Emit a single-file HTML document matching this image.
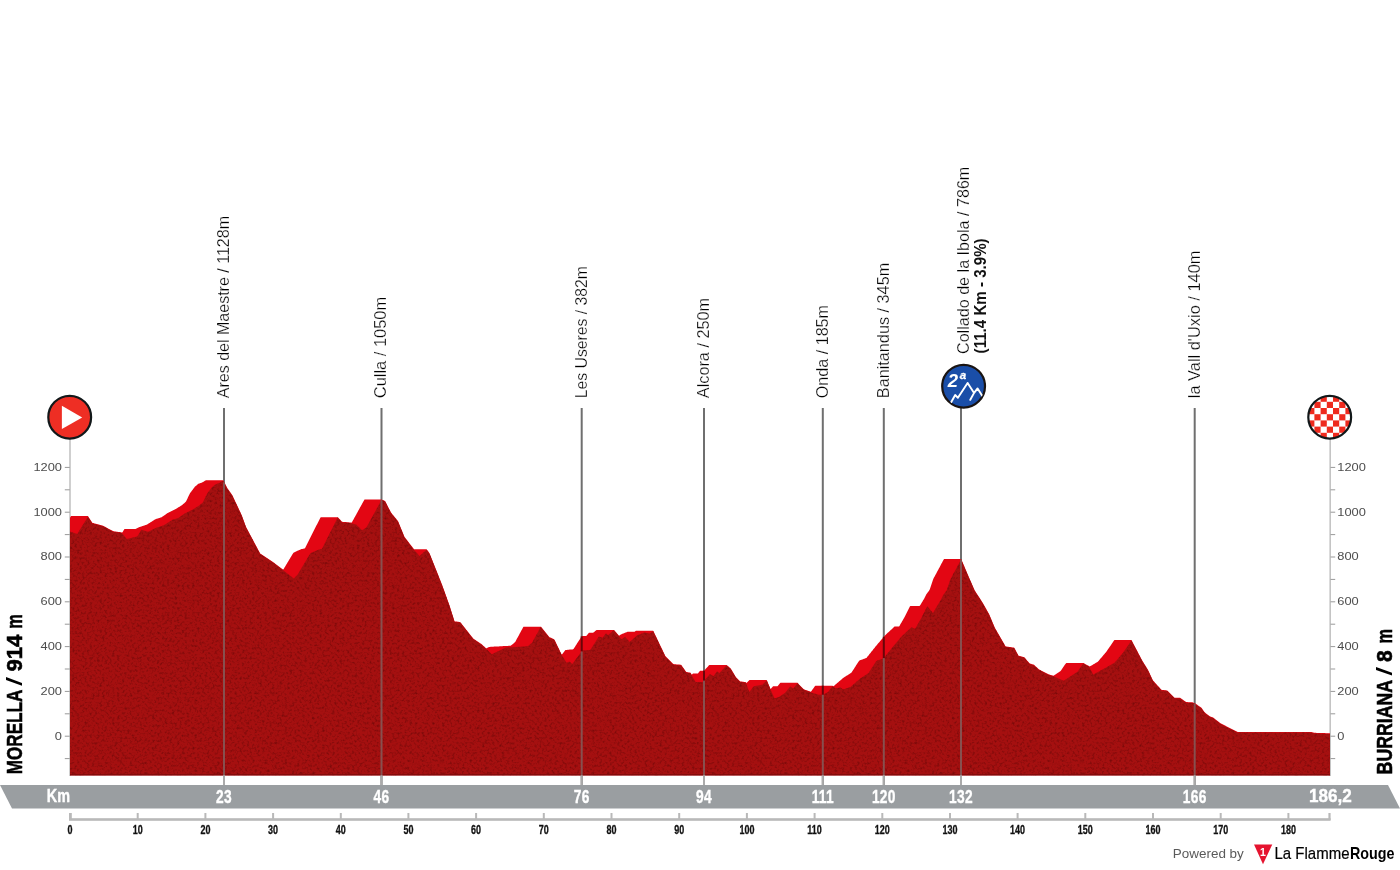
<!DOCTYPE html>
<html><head><meta charset="utf-8"><title>Stage profile</title>
<style>
html,body{margin:0;padding:0;background:#fff;}
body{width:1400px;height:870px;position:relative;overflow:hidden;font-family:"Liberation Sans",sans-serif;}
svg text{font-family:"Liberation Sans",sans-serif;}
.yl{font-size:10.7px;fill:#4d4d4d;}
.rl{font-size:12px;font-weight:bold;fill:#111;stroke:#111;stroke-width:0.3px;}
.km{font-size:18.2px;letter-spacing:0.4px;font-weight:bold;fill:#fff;stroke:#fff;stroke-width:0.4px;}
.kb{font-size:18px;font-weight:bold;fill:#fff;stroke:#fff;stroke-width:0.4px;}
.kb2{font-size:18.6px;font-weight:bold;fill:#fff;stroke:#fff;stroke-width:0.4px;}
.lb{font-size:16.4px;fill:#000;stroke:#fff;stroke-width:0.26px;}
.lbb{font-size:16.4px;font-weight:bold;fill:#111;}
.ti{font-size:21.6px;font-weight:bold;fill:#000;stroke:#000;stroke-width:0.55px;}
.k2{font-size:18.5px;font-weight:bold;font-style:italic;fill:#fff;}
.ka{font-size:11.6px;font-weight:bold;font-style:italic;fill:#fff;stroke:#fff;stroke-width:0.3px;}
.pw{font-size:12.6px;fill:#5a5a5a;}
.one{font-size:10.5px;font-weight:bold;fill:#fff;}
.lf{font-size:16.6px;fill:#000;stroke:#000;stroke-width:0.2px;}
.lfb{font-size:16.6px;font-weight:bold;fill:#000;}
</style></head><body>
<svg width="1400" height="870" viewBox="0 0 1400 870" style="position:absolute;left:0;top:0;will-change:transform">
<defs>
<filter id="noise" x="0" y="0" width="100%" height="100%" filterUnits="objectBoundingBox" color-interpolation-filters="sRGB">
<feTurbulence type="fractalNoise" baseFrequency="0.4" numOctaves="2" seed="7" result="n"/>
<feColorMatrix in="n" type="matrix" values="0 0 0 0 0.42  0 0 0 0 0.03  0 0 0 0 0.03  1.8 0 0 0 -0.85" result="d"/>
<feComposite in="d" in2="SourceGraphic" operator="in" result="dd"/>
<feMerge><feMergeNode in="SourceGraphic"/><feMergeNode in="dd"/></feMerge>
</filter>
<clipPath id="cs"><circle cx="1329.7" cy="417.2" r="21.2"/></clipPath>
<clipPath id="cb"><circle cx="963.6" cy="386.2" r="21"/></clipPath>
</defs>
<rect x="69.2" y="438" width="1.6" height="338" fill="#c4c4c4"/>
<rect x="1329.4" y="438" width="1.6" height="338" fill="#c4c4c4"/>
<rect x="64.8" y="758.10" width="5" height="1" fill="#9a9a9a"/>
<rect x="1330.5" y="758.10" width="4.7" height="1" fill="#9a9a9a"/>
<rect x="64.8" y="735.70" width="5" height="1" fill="#9a9a9a"/>
<rect x="1330.5" y="735.70" width="4.7" height="1" fill="#9a9a9a"/>
<text x="0" y="0" transform="translate(62,739.50) scale(1.2,1)" text-anchor="end" class="yl">0</text>
<text x="0" y="0" transform="translate(1337.3,739.50) scale(1.2,1)" text-anchor="start" class="yl">0</text>
<rect x="64.8" y="713.30" width="5" height="1" fill="#9a9a9a"/>
<rect x="1330.5" y="713.30" width="4.7" height="1" fill="#9a9a9a"/>
<rect x="64.8" y="690.90" width="5" height="1" fill="#9a9a9a"/>
<rect x="1330.5" y="690.90" width="4.7" height="1" fill="#9a9a9a"/>
<text x="0" y="0" transform="translate(62,694.70) scale(1.2,1)" text-anchor="end" class="yl">200</text>
<text x="0" y="0" transform="translate(1337.3,694.70) scale(1.2,1)" text-anchor="start" class="yl">200</text>
<rect x="64.8" y="668.50" width="5" height="1" fill="#9a9a9a"/>
<rect x="1330.5" y="668.50" width="4.7" height="1" fill="#9a9a9a"/>
<rect x="64.8" y="646.10" width="5" height="1" fill="#9a9a9a"/>
<rect x="1330.5" y="646.10" width="4.7" height="1" fill="#9a9a9a"/>
<text x="0" y="0" transform="translate(62,649.90) scale(1.2,1)" text-anchor="end" class="yl">400</text>
<text x="0" y="0" transform="translate(1337.3,649.90) scale(1.2,1)" text-anchor="start" class="yl">400</text>
<rect x="64.8" y="623.70" width="5" height="1" fill="#9a9a9a"/>
<rect x="1330.5" y="623.70" width="4.7" height="1" fill="#9a9a9a"/>
<rect x="64.8" y="601.30" width="5" height="1" fill="#9a9a9a"/>
<rect x="1330.5" y="601.30" width="4.7" height="1" fill="#9a9a9a"/>
<text x="0" y="0" transform="translate(62,605.10) scale(1.2,1)" text-anchor="end" class="yl">600</text>
<text x="0" y="0" transform="translate(1337.3,605.10) scale(1.2,1)" text-anchor="start" class="yl">600</text>
<rect x="64.8" y="578.90" width="5" height="1" fill="#9a9a9a"/>
<rect x="1330.5" y="578.90" width="4.7" height="1" fill="#9a9a9a"/>
<rect x="64.8" y="556.50" width="5" height="1" fill="#9a9a9a"/>
<rect x="1330.5" y="556.50" width="4.7" height="1" fill="#9a9a9a"/>
<text x="0" y="0" transform="translate(62,560.30) scale(1.2,1)" text-anchor="end" class="yl">800</text>
<text x="0" y="0" transform="translate(1337.3,560.30) scale(1.2,1)" text-anchor="start" class="yl">800</text>
<rect x="64.8" y="534.10" width="5" height="1" fill="#9a9a9a"/>
<rect x="1330.5" y="534.10" width="4.7" height="1" fill="#9a9a9a"/>
<rect x="64.8" y="511.70" width="5" height="1" fill="#9a9a9a"/>
<rect x="1330.5" y="511.70" width="4.7" height="1" fill="#9a9a9a"/>
<text x="0" y="0" transform="translate(62,515.50) scale(1.2,1)" text-anchor="end" class="yl">1000</text>
<text x="0" y="0" transform="translate(1337.3,515.50) scale(1.2,1)" text-anchor="start" class="yl">1000</text>
<rect x="64.8" y="489.30" width="5" height="1" fill="#9a9a9a"/>
<rect x="1330.5" y="489.30" width="4.7" height="1" fill="#9a9a9a"/>
<rect x="64.8" y="466.90" width="5" height="1" fill="#9a9a9a"/>
<rect x="1330.5" y="466.90" width="4.7" height="1" fill="#9a9a9a"/>
<text x="0" y="0" transform="translate(62,470.70) scale(1.2,1)" text-anchor="end" class="yl">1200</text>
<text x="0" y="0" transform="translate(1337.3,470.70) scale(1.2,1)" text-anchor="start" class="yl">1200</text>
<rect x="223.0" y="408" width="2" height="377" fill="#6f6f6f"/>
<rect x="380.5" y="408" width="2" height="377" fill="#6f6f6f"/>
<rect x="580.7" y="408" width="2" height="377" fill="#6f6f6f"/>
<rect x="703.0" y="408" width="2" height="377" fill="#6f6f6f"/>
<rect x="821.8" y="408" width="2" height="377" fill="#6f6f6f"/>
<rect x="882.8" y="408" width="2" height="377" fill="#6f6f6f"/>
<rect x="1193.7" y="408" width="2" height="377" fill="#6f6f6f"/>
<rect x="960.0" y="408" width="2" height="377" fill="#6f6f6f"/>
<path d="M70.0,775.2 L70.0,517.7 L70.5,516.9 L71.0,516.1 L71.5,516.1 L72.0,516.1 L72.5,516.1 L73.0,516.1 L73.5,516.1 L74.0,516.1 L74.5,516.1 L75.0,516.1 L75.5,516.1 L76.0,516.1 L76.5,516.1 L77.0,516.1 L77.5,516.1 L78.0,516.1 L78.5,516.1 L79.0,516.1 L79.5,516.1 L80.0,516.1 L80.5,516.1 L81.0,516.1 L81.5,516.1 L82.0,516.1 L82.5,516.1 L83.0,516.1 L83.5,516.1 L84.0,516.1 L84.5,516.1 L85.0,516.1 L85.5,516.1 L86.0,516.1 L86.5,516.1 L87.0,516.1 L87.5,516.1 L88.0,516.1 L88.5,516.9 L89.0,517.7 L89.5,518.4 L90.0,519.2 L90.5,520.0 L91.0,520.8 L91.5,521.6 L92.0,522.3 L92.5,522.9 L93.0,523.0 L93.5,523.1 L94.0,523.3 L94.5,523.4 L95.0,523.5 L95.5,523.7 L96.0,523.8 L96.5,523.9 L97.0,524.1 L97.5,524.2 L98.0,524.3 L98.5,524.5 L99.0,524.6 L99.5,524.8 L100.0,524.9 L100.5,525.0 L101.0,525.2 L101.5,525.3 L102.0,525.4 L102.5,525.6 L103.0,525.7 L103.5,526.0 L104.0,526.2 L104.5,526.5 L105.0,526.8 L105.5,527.0 L106.0,527.3 L106.5,527.6 L107.0,527.9 L107.5,528.1 L108.0,528.4 L108.5,528.7 L109.0,528.9 L109.5,529.2 L110.0,529.5 L110.5,529.7 L111.0,530.0 L111.5,530.3 L112.0,530.6 L112.5,530.8 L113.0,531.1 L113.5,531.2 L114.0,531.3 L114.5,531.4 L115.0,531.5 L115.5,531.5 L116.0,531.6 L116.5,531.7 L117.0,531.7 L117.5,531.8 L118.0,531.9 L118.5,531.9 L119.0,532.0 L119.5,532.1 L120.0,532.1 L120.5,532.2 L121.0,532.3 L121.5,532.4 L122.0,532.6 L122.5,532.3 L123.0,531.4 L123.5,530.6 L124.0,529.8 L124.5,529.1 L125.0,529.1 L125.5,529.1 L126.0,529.1 L126.5,529.1 L127.0,529.1 L127.5,529.1 L128.0,529.1 L128.5,529.1 L129.0,529.1 L129.5,529.1 L130.0,529.1 L130.5,529.1 L131.0,529.1 L131.5,529.1 L132.0,529.1 L132.5,529.1 L133.0,529.1 L133.5,529.1 L134.0,529.1 L134.5,529.1 L135.0,529.1 L135.5,529.0 L136.0,528.7 L136.5,528.5 L137.0,528.3 L137.5,528.0 L138.0,527.8 L138.5,527.6 L139.0,527.3 L139.5,527.1 L140.0,526.9 L140.5,526.8 L141.0,526.6 L141.5,526.4 L142.0,526.3 L142.5,526.1 L143.0,525.9 L143.5,525.8 L144.0,525.6 L144.5,525.5 L145.0,525.3 L145.5,525.1 L146.0,525.0 L146.5,524.8 L147.0,524.6 L147.5,524.3 L148.0,523.9 L148.5,523.6 L149.0,523.3 L149.5,523.0 L150.0,522.7 L150.5,522.3 L151.0,522.0 L151.5,521.7 L152.0,521.4 L152.5,521.1 L153.0,520.8 L153.5,520.4 L154.0,520.1 L154.5,519.8 L155.0,519.5 L155.5,519.2 L156.0,519.0 L156.5,518.8 L157.0,518.7 L157.5,518.5 L158.0,518.4 L158.5,518.2 L159.0,518.1 L159.5,517.9 L160.0,517.8 L160.5,517.6 L161.0,517.5 L161.5,517.3 L162.0,516.9 L162.5,516.6 L163.0,516.2 L163.5,515.9 L164.0,515.5 L164.5,515.2 L165.0,514.9 L165.5,514.5 L166.0,514.2 L166.5,513.8 L167.0,513.5 L167.5,513.1 L168.0,512.9 L168.5,512.6 L169.0,512.4 L169.5,512.1 L170.0,511.9 L170.5,511.6 L171.0,511.4 L171.5,511.1 L172.0,510.9 L172.5,510.6 L173.0,510.4 L173.5,510.1 L174.0,509.9 L174.5,509.6 L175.0,509.4 L175.5,509.1 L176.0,508.9 L176.5,508.6 L177.0,508.2 L177.5,507.9 L178.0,507.6 L178.5,507.3 L179.0,507.0 L179.5,506.7 L180.0,506.4 L180.5,506.1 L181.0,505.8 L181.5,505.4 L182.0,505.1 L182.5,504.7 L183.0,504.3 L183.5,503.8 L184.0,503.4 L184.5,503.0 L185.0,502.5 L185.5,502.1 L186.0,501.4 L186.5,500.4 L187.0,499.4 L187.5,498.4 L188.0,497.3 L188.5,496.3 L189.0,495.3 L189.5,494.3 L190.0,493.3 L190.5,492.5 L191.0,491.9 L191.5,491.2 L192.0,490.5 L192.5,489.9 L193.0,489.2 L193.5,488.6 L194.0,487.9 L194.5,487.3 L195.0,486.6 L195.5,486.2 L196.0,485.8 L196.5,485.4 L197.0,485.0 L197.5,484.6 L198.0,484.1 L198.5,483.8 L199.0,483.6 L199.5,483.4 L200.0,483.3 L200.5,483.1 L201.0,482.9 L201.5,482.7 L202.0,482.5 L202.5,482.3 L203.0,482.0 L203.5,481.7 L204.0,481.4 L204.5,481.1 L205.0,480.8 L205.5,480.5 L206.0,480.2 L206.5,480.2 L207.0,480.2 L207.5,480.2 L208.0,480.2 L208.5,480.2 L209.0,480.2 L209.5,480.2 L210.0,480.2 L210.5,480.2 L211.0,480.2 L211.5,480.2 L212.0,480.2 L212.5,480.2 L213.0,480.2 L213.5,480.2 L214.0,480.2 L214.5,480.2 L215.0,480.2 L215.5,480.2 L216.0,480.2 L216.5,480.2 L217.0,480.2 L217.5,480.2 L218.0,480.2 L218.5,480.2 L219.0,480.2 L219.5,480.2 L220.0,480.2 L220.5,480.2 L221.0,480.2 L221.5,480.2 L222.0,480.2 L222.5,480.2 L223.0,480.2 L223.5,480.7 L224.0,481.7 L224.5,482.6 L225.0,483.6 L225.5,484.6 L226.0,485.6 L226.5,486.5 L227.0,487.5 L227.5,488.4 L228.0,489.1 L228.5,489.8 L229.0,490.5 L229.5,491.2 L230.0,491.9 L230.5,492.6 L231.0,493.3 L231.5,494.0 L232.0,494.7 L232.5,495.5 L233.0,496.6 L233.5,497.7 L234.0,498.7 L234.5,499.8 L235.0,500.9 L235.5,501.9 L236.0,503.0 L236.5,504.1 L237.0,505.1 L237.5,506.2 L238.0,507.3 L238.5,508.3 L239.0,509.4 L239.5,510.5 L240.0,511.6 L240.5,512.6 L241.0,513.7 L241.5,514.8 L242.0,515.9 L242.5,517.3 L243.0,518.7 L243.5,520.1 L244.0,521.4 L244.5,522.8 L245.0,524.2 L245.5,525.5 L246.0,526.9 L246.5,527.8 L247.0,528.8 L247.5,529.7 L248.0,530.7 L248.5,531.6 L249.0,532.5 L249.5,533.5 L250.0,534.4 L250.5,535.4 L251.0,536.3 L251.5,537.2 L252.0,538.2 L252.5,539.1 L253.0,540.1 L253.5,541.0 L254.0,541.9 L254.5,542.9 L255.0,543.8 L255.5,544.8 L256.0,545.7 L256.5,546.6 L257.0,547.6 L257.5,548.5 L258.0,549.5 L258.5,550.4 L259.0,551.3 L259.5,552.3 L260.0,553.2 L260.5,553.7 L261.0,554.0 L261.5,554.3 L262.0,554.7 L262.5,555.0 L263.0,555.3 L263.5,555.7 L264.0,556.0 L264.5,556.3 L265.0,556.7 L265.5,557.0 L266.0,557.3 L266.5,557.7 L267.0,558.0 L267.5,558.3 L268.0,558.7 L268.5,559.0 L269.0,559.3 L269.5,559.7 L270.0,560.0 L270.5,560.3 L271.0,560.7 L271.5,561.0 L272.0,561.3 L272.5,561.7 L273.0,562.0 L273.5,562.4 L274.0,562.8 L274.5,563.1 L275.0,563.5 L275.5,563.9 L276.0,564.3 L276.5,564.7 L277.0,565.0 L277.5,565.4 L278.0,565.8 L278.5,566.2 L279.0,566.6 L279.5,566.9 L280.0,567.3 L280.5,567.7 L281.0,568.1 L281.5,568.5 L282.0,568.8 L282.5,569.2 L283.0,569.6 L283.5,569.2 L284.0,568.4 L284.5,567.5 L285.0,566.7 L285.5,565.9 L286.0,565.0 L286.5,564.2 L287.0,563.4 L287.5,562.5 L288.0,561.7 L288.5,560.9 L289.0,560.0 L289.5,559.2 L290.0,558.4 L290.5,557.5 L291.0,556.7 L291.5,555.9 L292.0,555.0 L292.5,554.2 L293.0,553.4 L293.5,552.7 L294.0,552.4 L294.5,552.2 L295.0,552.0 L295.5,551.7 L296.0,551.5 L296.5,551.3 L297.0,551.1 L297.5,550.8 L298.0,550.6 L298.5,550.4 L299.0,550.1 L299.5,549.9 L300.0,549.7 L300.5,549.5 L301.0,549.2 L301.5,549.1 L302.0,549.0 L302.5,548.9 L303.0,548.8 L303.5,548.7 L304.0,548.6 L304.5,548.5 L305.0,548.2 L305.5,547.2 L306.0,546.2 L306.5,545.2 L307.0,544.2 L307.5,543.2 L308.0,542.2 L308.5,541.2 L309.0,540.3 L309.5,539.3 L310.0,538.3 L310.5,537.3 L311.0,536.3 L311.5,535.3 L312.0,534.3 L312.5,533.3 L313.0,532.3 L313.5,531.3 L314.0,530.3 L314.5,529.3 L315.0,528.3 L315.5,527.3 L316.0,526.3 L316.5,525.3 L317.0,524.4 L317.5,523.4 L318.0,522.4 L318.5,521.4 L319.0,520.4 L319.5,519.4 L320.0,518.4 L320.5,517.4 L321.0,517.3 L321.5,517.3 L322.0,517.3 L322.5,517.3 L323.0,517.3 L323.5,517.3 L324.0,517.3 L324.5,517.3 L325.0,517.3 L325.5,517.3 L326.0,517.3 L326.5,517.3 L327.0,517.3 L327.5,517.3 L328.0,517.3 L328.5,517.3 L329.0,517.3 L329.5,517.3 L330.0,517.3 L330.5,517.3 L331.0,517.3 L331.5,517.3 L332.0,517.3 L332.5,517.3 L333.0,517.3 L333.5,517.3 L334.0,517.3 L334.5,517.3 L335.0,517.3 L335.5,517.3 L336.0,517.3 L336.5,517.3 L337.0,517.3 L337.5,517.3 L338.0,517.3 L338.5,517.9 L339.0,518.5 L339.5,519.0 L340.0,519.6 L340.5,520.1 L341.0,520.7 L341.5,521.2 L342.0,521.8 L342.5,521.8 L343.0,521.9 L343.5,521.9 L344.0,522.0 L344.5,522.0 L345.0,522.0 L345.5,522.1 L346.0,522.1 L346.5,522.2 L347.0,522.2 L347.5,522.2 L348.0,522.3 L348.5,522.3 L349.0,522.4 L349.5,522.4 L350.0,522.5 L350.5,522.5 L351.0,522.6 L351.5,522.8 L352.0,522.1 L352.5,521.2 L353.0,520.3 L353.5,519.4 L354.0,518.5 L354.5,517.6 L355.0,516.7 L355.5,515.8 L356.0,514.9 L356.5,514.0 L357.0,513.1 L357.5,512.2 L358.0,511.3 L358.5,510.3 L359.0,509.4 L359.5,508.5 L360.0,507.6 L360.5,506.7 L361.0,505.8 L361.5,504.9 L362.0,504.0 L362.5,503.1 L363.0,502.2 L363.5,501.3 L364.0,500.4 L364.5,499.5 L365.0,499.5 L365.5,499.5 L366.0,499.5 L366.5,499.5 L367.0,499.5 L367.5,499.5 L368.0,499.5 L368.5,499.5 L369.0,499.5 L369.5,499.5 L370.0,499.5 L370.5,499.5 L371.0,499.5 L371.5,499.5 L372.0,499.5 L372.5,499.5 L373.0,499.5 L373.5,499.5 L374.0,499.5 L374.5,499.5 L375.0,499.5 L375.5,499.5 L376.0,499.5 L376.5,499.5 L377.0,499.5 L377.5,499.5 L378.0,499.5 L378.5,499.5 L379.0,499.5 L379.5,499.5 L380.0,499.5 L380.5,499.5 L381.0,499.5 L381.5,499.5 L382.0,499.7 L382.5,499.9 L383.0,500.1 L383.5,500.3 L384.0,500.5 L384.5,500.8 L385.0,501.0 L385.5,501.8 L386.0,502.8 L386.5,503.8 L387.0,504.7 L387.5,505.7 L388.0,506.7 L388.5,507.7 L389.0,508.7 L389.5,509.6 L390.0,510.6 L390.5,511.6 L391.0,512.5 L391.5,513.1 L392.0,513.7 L392.5,514.4 L393.0,515.0 L393.5,515.6 L394.0,516.2 L394.5,516.8 L395.0,517.4 L395.5,518.0 L396.0,518.6 L396.5,519.3 L397.0,519.9 L397.5,520.5 L398.0,521.1 L398.5,522.3 L399.0,523.5 L399.5,524.7 L400.0,526.0 L400.5,527.2 L401.0,528.4 L401.5,529.6 L402.0,530.8 L402.5,532.0 L403.0,533.3 L403.5,534.5 L404.0,535.7 L404.5,536.9 L405.0,537.5 L405.5,538.2 L406.0,538.8 L406.5,539.5 L407.0,540.1 L407.5,540.8 L408.0,541.4 L408.5,542.1 L409.0,542.7 L409.5,543.4 L410.0,544.0 L410.5,544.7 L411.0,545.3 L411.5,546.0 L412.0,546.6 L412.5,547.3 L413.0,547.9 L413.5,548.6 L414.0,549.2 L414.5,549.3 L415.0,549.3 L415.5,549.3 L416.0,549.3 L416.5,549.3 L417.0,549.3 L417.5,549.3 L418.0,549.3 L418.5,549.3 L419.0,549.3 L419.5,549.3 L420.0,549.3 L420.5,549.3 L421.0,549.3 L421.5,549.3 L422.0,549.3 L422.5,549.3 L423.0,549.3 L423.5,549.3 L424.0,549.3 L424.5,549.3 L425.0,549.3 L425.5,549.3 L426.0,549.3 L426.5,549.3 L427.0,549.8 L427.5,550.4 L428.0,551.1 L428.5,551.8 L429.0,552.5 L429.5,553.2 L430.0,554.5 L430.5,555.7 L431.0,557.0 L431.5,558.2 L432.0,559.5 L432.5,560.7 L433.0,562.0 L433.5,563.3 L434.0,564.5 L434.5,565.8 L435.0,567.0 L435.5,568.3 L436.0,569.6 L436.5,570.8 L437.0,572.1 L437.5,573.3 L438.0,574.6 L438.5,575.8 L439.0,577.1 L439.5,578.4 L440.0,579.6 L440.5,580.9 L441.0,582.1 L441.5,583.4 L442.0,584.6 L442.5,586.0 L443.0,587.4 L443.5,588.8 L444.0,590.1 L444.5,591.5 L445.0,592.9 L445.5,594.3 L446.0,595.7 L446.5,597.1 L447.0,598.5 L447.5,599.9 L448.0,601.3 L448.5,602.7 L449.0,604.1 L449.5,605.5 L450.0,607.1 L450.5,608.7 L451.0,610.2 L451.5,611.8 L452.0,613.4 L452.5,615.0 L453.0,616.6 L453.5,618.1 L454.0,619.7 L454.5,621.3 L455.0,621.4 L455.5,621.4 L456.0,621.5 L456.5,621.5 L457.0,621.6 L457.5,621.7 L458.0,621.7 L458.5,621.8 L459.0,621.9 L459.5,621.9 L460.0,622.0 L460.5,622.4 L461.0,623.0 L461.5,623.6 L462.0,624.3 L462.5,624.9 L463.0,625.6 L463.5,626.2 L464.0,626.8 L464.5,627.5 L465.0,628.1 L465.5,628.7 L466.0,629.4 L466.5,630.0 L467.0,630.6 L467.5,631.3 L468.0,631.9 L468.5,632.5 L469.0,633.2 L469.5,633.8 L470.0,634.4 L470.5,635.1 L471.0,635.7 L471.5,636.3 L472.0,637.0 L472.5,637.6 L473.0,638.2 L473.5,638.7 L474.0,639.0 L474.5,639.4 L475.0,639.7 L475.5,640.1 L476.0,640.4 L476.5,640.7 L477.0,641.1 L477.5,641.4 L478.0,641.7 L478.5,642.1 L479.0,642.4 L479.5,642.7 L480.0,643.1 L480.5,643.4 L481.0,643.8 L481.5,644.1 L482.0,644.5 L482.5,645.0 L483.0,645.4 L483.5,645.9 L484.0,646.3 L484.5,646.8 L485.0,647.3 L485.5,647.7 L486.0,648.2 L486.5,648.2 L487.0,647.9 L487.5,647.7 L488.0,647.5 L488.5,647.2 L489.0,647.0 L489.5,646.9 L490.0,646.9 L490.5,646.8 L491.0,646.8 L491.5,646.8 L492.0,646.7 L492.5,646.7 L493.0,646.7 L493.5,646.7 L494.0,646.6 L494.5,646.6 L495.0,646.6 L495.5,646.5 L496.0,646.5 L496.5,646.5 L497.0,646.5 L497.5,646.4 L498.0,646.4 L498.5,646.4 L499.0,646.4 L499.5,646.3 L500.0,646.3 L500.5,646.3 L501.0,646.2 L501.5,646.2 L502.0,646.2 L502.5,646.2 L503.0,646.1 L503.5,646.1 L504.0,646.1 L504.5,646.0 L505.0,646.0 L505.5,646.0 L506.0,646.0 L506.5,645.9 L507.0,645.9 L507.5,645.9 L508.0,645.9 L508.5,645.8 L509.0,645.8 L509.5,645.8 L510.0,645.7 L510.5,645.7 L511.0,645.5 L511.5,645.1 L512.0,644.7 L512.5,644.3 L513.0,643.9 L513.5,643.4 L514.0,643.0 L514.5,642.6 L515.0,642.2 L515.5,641.4 L516.0,640.4 L516.5,639.5 L517.0,638.6 L517.5,637.7 L518.0,636.8 L518.5,635.9 L519.0,634.9 L519.5,634.0 L520.0,633.1 L520.5,632.2 L521.0,631.3 L521.5,630.3 L522.0,629.4 L522.5,628.5 L523.0,627.6 L523.5,626.7 L524.0,626.7 L524.5,626.7 L525.0,626.7 L525.5,626.7 L526.0,626.7 L526.5,626.7 L527.0,626.7 L527.5,626.7 L528.0,626.7 L528.5,626.7 L529.0,626.7 L529.5,626.7 L530.0,626.7 L530.5,626.7 L531.0,626.7 L531.5,626.7 L532.0,626.7 L532.5,626.7 L533.0,626.7 L533.5,626.7 L534.0,626.7 L534.5,626.7 L535.0,626.7 L535.5,626.7 L536.0,626.7 L536.5,626.7 L537.0,626.7 L537.5,626.7 L538.0,626.7 L538.5,626.7 L539.0,626.7 L539.5,626.7 L540.0,626.7 L540.5,626.7 L541.0,626.7 L541.5,627.3 L542.0,627.9 L542.5,628.6 L543.0,629.2 L543.5,629.8 L544.0,630.4 L544.5,631.1 L545.0,631.7 L545.5,632.3 L546.0,633.0 L546.5,633.6 L547.0,634.2 L547.5,634.8 L548.0,635.5 L548.5,636.1 L549.0,636.7 L549.5,637.2 L550.0,637.4 L550.5,637.6 L551.0,637.8 L551.5,638.1 L552.0,638.3 L552.5,638.5 L553.0,638.7 L553.5,638.9 L554.0,639.2 L554.5,639.7 L555.0,640.8 L555.5,641.8 L556.0,642.8 L556.5,643.9 L557.0,644.9 L557.5,646.0 L558.0,647.0 L558.5,648.0 L559.0,649.1 L559.5,650.1 L560.0,651.2 L560.5,652.2 L561.0,653.3 L561.5,654.3 L562.0,654.5 L562.5,653.8 L563.0,653.2 L563.5,652.5 L564.0,651.8 L564.5,651.2 L565.0,650.5 L565.5,650.0 L566.0,649.9 L566.5,649.9 L567.0,649.9 L567.5,649.8 L568.0,649.8 L568.5,649.7 L569.0,649.7 L569.5,649.6 L570.0,649.6 L570.5,649.5 L571.0,649.5 L571.5,649.5 L572.0,649.4 L572.5,649.4 L573.0,649.3 L573.5,649.0 L574.0,648.2 L574.5,647.4 L575.0,646.7 L575.5,645.9 L576.0,645.1 L576.5,644.4 L577.0,643.6 L577.5,642.8 L578.0,642.0 L578.5,641.3 L579.0,640.5 L579.5,639.7 L580.0,638.9 L580.5,638.2 L581.0,637.4 L581.5,636.6 L582.0,636.0 L582.5,636.0 L583.0,636.0 L583.5,636.0 L584.0,636.0 L584.5,636.0 L585.0,636.0 L585.5,636.0 L586.0,636.0 L586.5,635.8 L587.0,635.2 L587.5,634.6 L588.0,634.0 L588.5,633.3 L589.0,632.7 L589.5,632.7 L590.0,632.7 L590.5,632.7 L591.0,632.7 L591.5,632.7 L592.0,632.7 L592.5,632.7 L593.0,632.7 L593.5,632.5 L594.0,632.1 L594.5,631.7 L595.0,631.2 L595.5,630.8 L596.0,630.4 L596.5,630.0 L597.0,629.9 L597.5,629.9 L598.0,629.9 L598.5,629.9 L599.0,629.9 L599.5,629.9 L600.0,629.9 L600.5,629.9 L601.0,629.9 L601.5,629.9 L602.0,629.9 L602.5,629.9 L603.0,629.9 L603.5,629.9 L604.0,629.9 L604.5,629.9 L605.0,629.9 L605.5,629.9 L606.0,629.9 L606.5,629.9 L607.0,629.9 L607.5,629.9 L608.0,629.9 L608.5,629.9 L609.0,629.9 L609.5,629.9 L610.0,629.9 L610.5,629.9 L611.0,629.9 L611.5,629.9 L612.0,629.9 L612.5,629.9 L613.0,629.9 L613.5,629.9 L614.0,629.9 L614.5,630.5 L615.0,631.1 L615.5,631.7 L616.0,632.3 L616.5,632.8 L617.0,633.4 L617.5,634.0 L618.0,634.6 L618.5,635.2 L619.0,635.8 L619.5,635.5 L620.0,635.0 L620.5,634.7 L621.0,634.5 L621.5,634.3 L622.0,634.0 L622.5,633.8 L623.0,633.6 L623.5,633.4 L624.0,633.2 L624.5,633.0 L625.0,632.8 L625.5,632.6 L626.0,632.4 L626.5,632.2 L627.0,632.0 L627.5,631.8 L628.0,631.8 L628.5,631.8 L629.0,631.8 L629.5,631.8 L630.0,631.8 L630.5,631.8 L631.0,631.8 L631.5,631.8 L632.0,631.8 L632.5,631.8 L633.0,631.8 L633.5,631.8 L634.0,631.8 L634.5,631.8 L635.0,631.5 L635.5,631.1 L636.0,630.7 L636.5,630.7 L637.0,630.7 L637.5,630.7 L638.0,630.7 L638.5,630.7 L639.0,630.7 L639.5,630.7 L640.0,630.7 L640.5,630.7 L641.0,630.7 L641.5,630.7 L642.0,630.7 L642.5,630.7 L643.0,630.7 L643.5,630.7 L644.0,630.7 L644.5,630.7 L645.0,630.7 L645.5,630.7 L646.0,630.7 L646.5,630.7 L647.0,630.7 L647.5,630.7 L648.0,630.7 L648.5,630.7 L649.0,630.7 L649.5,630.7 L650.0,630.7 L650.5,630.7 L651.0,630.7 L651.5,630.7 L652.0,630.7 L652.5,630.7 L653.0,630.7 L653.5,631.2 L654.0,632.3 L654.5,633.4 L655.0,634.4 L655.5,635.5 L656.0,636.5 L656.5,637.6 L657.0,638.6 L657.5,639.7 L658.0,640.7 L658.5,641.8 L659.0,642.8 L659.5,643.9 L660.0,644.9 L660.5,646.0 L661.0,647.0 L661.5,648.1 L662.0,649.1 L662.5,650.1 L663.0,651.2 L663.5,652.2 L664.0,653.3 L664.5,654.3 L665.0,655.4 L665.5,656.3 L666.0,656.8 L666.5,657.3 L667.0,657.8 L667.5,658.3 L668.0,658.8 L668.5,659.3 L669.0,659.8 L669.5,660.3 L670.0,660.8 L670.5,661.3 L671.0,661.8 L671.5,662.3 L672.0,662.8 L672.5,663.3 L673.0,663.8 L673.5,664.1 L674.0,664.2 L674.5,664.2 L675.0,664.3 L675.5,664.3 L676.0,664.3 L676.5,664.4 L677.0,664.4 L677.5,664.5 L678.0,664.5 L678.5,664.6 L679.0,664.6 L679.5,664.6 L680.0,664.7 L680.5,664.7 L681.0,664.8 L681.5,665.2 L682.0,666.0 L682.5,666.7 L683.0,667.4 L683.5,668.1 L684.0,668.8 L684.5,669.6 L685.0,670.3 L685.5,671.0 L686.0,671.7 L686.5,672.0 L687.0,672.1 L687.5,672.2 L688.0,672.3 L688.5,672.4 L689.0,672.5 L689.5,672.5 L690.0,672.6 L690.5,672.7 L691.0,673.6 L691.5,674.4 L692.0,674.5 L692.5,674.0 L693.0,673.6 L693.5,673.6 L694.0,673.6 L694.5,673.6 L695.0,673.6 L695.5,673.6 L696.0,673.6 L696.5,673.6 L697.0,673.6 L697.5,673.6 L698.0,673.5 L698.5,672.8 L699.0,672.1 L699.5,671.4 L700.0,670.7 L700.5,670.7 L701.0,670.7 L701.5,670.7 L702.0,670.7 L702.5,670.7 L703.0,670.7 L703.5,670.7 L704.0,670.7 L704.5,670.3 L705.0,669.7 L705.5,669.1 L706.0,668.6 L706.5,668.0 L707.0,667.5 L707.5,666.9 L708.0,666.4 L708.5,665.8 L709.0,665.2 L709.5,664.9 L710.0,664.9 L710.5,664.9 L711.0,664.9 L711.5,664.9 L712.0,664.9 L712.5,664.9 L713.0,664.9 L713.5,664.9 L714.0,664.9 L714.5,664.9 L715.0,664.9 L715.5,664.9 L716.0,664.9 L716.5,664.9 L717.0,664.9 L717.5,664.9 L718.0,664.9 L718.5,664.9 L719.0,664.9 L719.5,664.9 L720.0,664.9 L720.5,664.9 L721.0,664.9 L721.5,664.9 L722.0,664.9 L722.5,664.9 L723.0,664.9 L723.5,664.9 L724.0,664.9 L724.5,664.9 L725.0,664.9 L725.5,664.9 L726.0,664.9 L726.5,664.9 L727.0,665.3 L727.5,665.7 L728.0,666.1 L728.5,666.6 L729.0,667.0 L729.5,667.4 L730.0,667.8 L730.5,668.2 L731.0,668.9 L731.5,669.7 L732.0,670.6 L732.5,671.4 L733.0,672.3 L733.5,673.1 L734.0,674.0 L734.5,674.8 L735.0,675.7 L735.5,676.5 L736.0,677.2 L736.5,677.7 L737.0,678.2 L737.5,678.7 L738.0,679.3 L738.5,679.8 L739.0,680.3 L739.5,680.8 L740.0,681.3 L740.5,681.4 L741.0,681.5 L741.5,681.6 L742.0,681.6 L742.5,681.7 L743.0,681.8 L743.5,681.8 L744.0,681.9 L744.5,681.9 L745.0,682.0 L745.5,682.1 L746.0,682.6 L746.5,683.1 L747.0,682.6 L747.5,682.1 L748.0,681.6 L748.5,681.1 L749.0,680.6 L749.5,680.1 L750.0,680.1 L750.5,680.1 L751.0,680.1 L751.5,680.1 L752.0,680.1 L752.5,680.1 L753.0,680.1 L753.5,680.1 L754.0,680.1 L754.5,680.1 L755.0,680.1 L755.5,680.1 L756.0,680.1 L756.5,680.1 L757.0,680.1 L757.5,680.1 L758.0,680.1 L758.5,680.1 L759.0,680.1 L759.5,680.1 L760.0,680.1 L760.5,680.1 L761.0,680.1 L761.5,680.1 L762.0,680.1 L762.5,680.1 L763.0,680.1 L763.5,680.1 L764.0,680.1 L764.5,680.1 L765.0,680.1 L765.5,680.1 L766.0,680.1 L766.5,680.1 L767.0,680.6 L767.5,681.8 L768.0,683.0 L768.5,684.2 L769.0,685.4 L769.5,686.6 L770.0,687.8 L770.5,688.9 L771.0,688.7 L771.5,688.1 L772.0,687.5 L772.5,686.9 L773.0,686.2 L773.5,686.2 L774.0,686.2 L774.5,686.2 L775.0,686.2 L775.5,686.2 L776.0,686.2 L776.5,686.2 L777.0,686.2 L777.5,686.2 L778.0,685.8 L778.5,685.1 L779.0,684.5 L779.5,683.8 L780.0,683.2 L780.5,682.8 L781.0,682.8 L781.5,682.8 L782.0,682.8 L782.5,682.8 L783.0,682.8 L783.5,682.8 L784.0,682.8 L784.5,682.8 L785.0,682.8 L785.5,682.8 L786.0,682.8 L786.5,682.8 L787.0,682.8 L787.5,682.8 L788.0,682.8 L788.5,682.8 L789.0,682.8 L789.5,682.8 L790.0,682.8 L790.5,682.8 L791.0,682.8 L791.5,682.8 L792.0,682.8 L792.5,682.8 L793.0,682.8 L793.5,682.8 L794.0,682.8 L794.5,682.8 L795.0,682.8 L795.5,682.8 L796.0,682.8 L796.5,682.8 L797.0,682.8 L797.5,682.8 L798.0,683.3 L798.5,683.8 L799.0,684.4 L799.5,684.9 L800.0,685.4 L800.5,685.9 L801.0,686.4 L801.5,686.9 L802.0,687.4 L802.5,688.0 L803.0,688.5 L803.5,689.0 L804.0,689.3 L804.5,689.5 L805.0,689.7 L805.5,689.9 L806.0,690.0 L806.5,690.2 L807.0,690.4 L807.5,690.6 L808.0,690.8 L808.5,691.0 L809.0,691.1 L809.5,691.3 L810.0,691.5 L810.5,691.7 L811.0,691.5 L811.5,690.9 L812.0,690.2 L812.5,689.5 L813.0,688.8 L813.5,688.2 L814.0,687.5 L814.5,686.8 L815.0,686.1 L815.5,685.7 L816.0,685.7 L816.5,685.7 L817.0,685.7 L817.5,685.7 L818.0,685.7 L818.5,685.7 L819.0,685.7 L819.5,685.7 L820.0,685.7 L820.5,685.7 L821.0,685.7 L821.5,685.7 L822.0,685.7 L822.5,685.7 L823.0,685.7 L823.5,685.7 L824.0,685.7 L824.5,685.7 L825.0,685.7 L825.5,685.7 L826.0,685.7 L826.5,685.7 L827.0,685.7 L827.5,685.7 L828.0,685.7 L828.5,685.7 L829.0,685.7 L829.5,685.7 L830.0,685.7 L830.5,685.7 L831.0,685.7 L831.5,685.7 L832.0,685.7 L832.5,685.7 L833.0,686.0 L833.5,686.2 L834.0,685.8 L834.5,685.4 L835.0,684.9 L835.5,684.5 L836.0,684.1 L836.5,683.7 L837.0,683.2 L837.5,682.8 L838.0,682.4 L838.5,682.0 L839.0,681.5 L839.5,681.1 L840.0,680.7 L840.5,680.3 L841.0,679.8 L841.5,679.4 L842.0,679.0 L842.5,678.6 L843.0,678.1 L843.5,677.7 L844.0,677.4 L844.5,677.1 L845.0,676.8 L845.5,676.4 L846.0,676.1 L846.5,675.8 L847.0,675.5 L847.5,675.2 L848.0,674.9 L848.5,674.5 L849.0,674.2 L849.5,673.9 L850.0,673.6 L850.5,673.3 L851.0,673.0 L851.5,672.5 L852.0,671.8 L852.5,671.0 L853.0,670.2 L853.5,669.5 L854.0,668.7 L854.5,667.9 L855.0,667.1 L855.5,666.4 L856.0,665.6 L856.5,664.8 L857.0,664.1 L857.5,663.3 L858.0,662.5 L858.5,661.7 L859.0,661.0 L859.5,660.4 L860.0,660.3 L860.5,660.1 L861.0,659.9 L861.5,659.7 L862.0,659.5 L862.5,659.4 L863.0,659.2 L863.5,659.0 L864.0,658.8 L864.5,658.7 L865.0,658.5 L865.5,658.3 L866.0,658.1 L866.5,657.9 L867.0,657.3 L867.5,656.6 L868.0,656.0 L868.5,655.4 L869.0,654.8 L869.5,654.1 L870.0,653.5 L870.5,652.9 L871.0,652.3 L871.5,651.6 L872.0,651.0 L872.5,650.4 L873.0,649.8 L873.5,649.1 L874.0,648.5 L874.5,647.9 L875.0,647.3 L875.5,646.6 L876.0,646.0 L876.5,645.4 L877.0,644.8 L877.5,644.2 L878.0,643.6 L878.5,643.1 L879.0,642.5 L879.5,641.9 L880.0,641.3 L880.5,640.7 L881.0,640.1 L881.5,639.5 L882.0,638.9 L882.5,638.4 L883.0,637.8 L883.5,637.2 L884.0,636.6 L884.5,636.0 L885.0,635.4 L885.5,634.9 L886.0,634.5 L886.5,634.0 L887.0,633.5 L887.5,633.1 L888.0,632.6 L888.5,632.2 L889.0,631.7 L889.5,631.2 L890.0,630.8 L890.5,630.3 L891.0,629.8 L891.5,629.4 L892.0,628.9 L892.5,628.5 L893.0,628.0 L893.5,627.5 L894.0,627.1 L894.5,626.6 L895.0,626.6 L895.5,626.6 L896.0,626.6 L896.5,626.6 L897.0,626.6 L897.5,626.6 L898.0,626.6 L898.5,626.6 L899.0,626.6 L899.5,625.9 L900.0,625.0 L900.5,624.1 L901.0,623.3 L901.5,622.4 L902.0,621.5 L902.5,620.7 L903.0,619.8 L903.5,618.9 L904.0,618.1 L904.5,617.2 L905.0,616.2 L905.5,615.2 L906.0,614.2 L906.5,613.2 L907.0,612.2 L907.5,611.3 L908.0,610.3 L908.5,609.3 L909.0,608.3 L909.5,607.3 L910.0,606.3 L910.5,605.9 L911.0,605.9 L911.5,605.9 L912.0,605.9 L912.5,605.9 L913.0,605.9 L913.5,605.9 L914.0,605.9 L914.5,605.9 L915.0,605.9 L915.5,605.9 L916.0,605.9 L916.5,605.9 L917.0,605.9 L917.5,605.9 L918.0,605.9 L918.5,605.9 L919.0,605.9 L919.5,605.9 L920.0,605.6 L920.5,604.8 L921.0,604.0 L921.5,603.1 L922.0,602.3 L922.5,601.4 L923.0,600.6 L923.5,599.7 L924.0,598.9 L924.5,597.9 L925.0,596.9 L925.5,595.9 L926.0,594.9 L926.5,594.1 L927.0,593.4 L927.5,592.8 L928.0,592.1 L928.5,591.4 L929.0,590.7 L929.5,590.0 L930.0,588.8 L930.5,587.3 L931.0,585.8 L931.5,584.3 L932.0,582.8 L932.5,581.3 L933.0,579.8 L933.5,578.5 L934.0,577.6 L934.5,576.7 L935.0,575.7 L935.5,574.8 L936.0,573.9 L936.5,572.9 L937.0,572.0 L937.5,571.1 L938.0,570.2 L938.5,569.2 L939.0,568.3 L939.5,567.4 L940.0,566.4 L940.5,565.5 L941.0,564.6 L941.5,563.6 L942.0,562.7 L942.5,561.8 L943.0,560.8 L943.5,559.9 L944.0,559.0 L944.5,559.0 L945.0,559.0 L945.5,559.0 L946.0,559.0 L946.5,559.0 L947.0,559.0 L947.5,559.0 L948.0,559.0 L948.5,559.0 L949.0,559.0 L949.5,559.0 L950.0,559.0 L950.5,559.0 L951.0,559.0 L951.5,559.0 L952.0,559.0 L952.5,559.0 L953.0,559.0 L953.5,559.0 L954.0,559.0 L954.5,559.0 L955.0,559.0 L955.5,559.0 L956.0,559.0 L956.5,559.0 L957.0,559.0 L957.5,559.0 L958.0,559.0 L958.5,559.0 L959.0,559.0 L959.5,559.0 L960.0,559.0 L960.5,559.0 L961.0,559.0 L961.5,559.7 L962.0,560.9 L962.5,562.1 L963.0,563.3 L963.5,564.5 L964.0,565.6 L964.5,566.8 L965.0,568.0 L965.5,569.2 L966.0,570.3 L966.5,571.5 L967.0,572.7 L967.5,573.9 L968.0,575.0 L968.5,576.2 L969.0,577.4 L969.5,578.5 L970.0,579.7 L970.5,580.8 L971.0,582.0 L971.5,583.1 L972.0,584.2 L972.5,585.4 L973.0,586.5 L973.5,587.7 L974.0,588.8 L974.5,589.9 L975.0,590.9 L975.5,591.6 L976.0,592.4 L976.5,593.2 L977.0,594.0 L977.5,594.7 L978.0,595.5 L978.5,596.3 L979.0,597.0 L979.5,597.8 L980.0,598.6 L980.5,599.4 L981.0,600.1 L981.5,600.9 L982.0,601.7 L982.5,602.4 L983.0,603.3 L983.5,604.2 L984.0,605.1 L984.5,606.0 L985.0,606.8 L985.5,607.7 L986.0,608.6 L986.5,609.5 L987.0,610.4 L987.5,611.3 L988.0,612.2 L988.5,613.0 L989.0,613.9 L989.5,615.1 L990.0,616.2 L990.5,617.4 L991.0,618.6 L991.5,619.8 L992.0,621.0 L992.5,622.2 L993.0,623.4 L993.5,624.6 L994.0,625.8 L994.5,627.0 L995.0,628.0 L995.5,628.9 L996.0,629.8 L996.5,630.6 L997.0,631.5 L997.5,632.4 L998.0,633.2 L998.5,634.1 L999.0,635.0 L999.5,635.8 L1000.0,636.7 L1000.5,637.6 L1001.0,638.4 L1001.5,639.3 L1002.0,640.2 L1002.5,641.0 L1003.0,641.9 L1003.5,642.8 L1004.0,643.6 L1004.5,644.5 L1005.0,645.4 L1005.5,646.2 L1006.0,646.5 L1006.5,646.5 L1007.0,646.6 L1007.5,646.7 L1008.0,646.7 L1008.5,646.8 L1009.0,646.9 L1009.5,646.9 L1010.0,647.0 L1010.5,647.1 L1011.0,647.2 L1011.5,647.2 L1012.0,647.3 L1012.5,647.4 L1013.0,647.4 L1013.5,647.5 L1014.0,647.6 L1014.5,648.2 L1015.0,649.1 L1015.5,650.0 L1016.0,651.0 L1016.5,651.9 L1017.0,652.9 L1017.5,653.8 L1018.0,654.8 L1018.5,655.7 L1019.0,655.8 L1019.5,656.0 L1020.0,656.1 L1020.5,656.2 L1021.0,656.3 L1021.5,656.5 L1022.0,656.6 L1022.5,656.7 L1023.0,656.9 L1023.5,657.0 L1024.0,657.1 L1024.5,657.4 L1025.0,658.0 L1025.5,658.6 L1026.0,659.2 L1026.5,659.8 L1027.0,660.4 L1027.5,660.9 L1028.0,661.5 L1028.5,662.1 L1029.0,662.7 L1029.5,663.3 L1030.0,663.5 L1030.5,663.7 L1031.0,663.8 L1031.5,664.0 L1032.0,664.2 L1032.5,664.3 L1033.0,664.5 L1033.5,664.6 L1034.0,664.8 L1034.5,665.3 L1035.0,665.7 L1035.5,666.2 L1036.0,666.7 L1036.5,667.1 L1037.0,667.6 L1037.5,668.1 L1038.0,668.5 L1038.5,669.0 L1039.0,669.4 L1039.5,669.6 L1040.0,669.9 L1040.5,670.1 L1041.0,670.4 L1041.5,670.7 L1042.0,670.9 L1042.5,671.2 L1043.0,671.4 L1043.5,671.7 L1044.0,672.0 L1044.5,672.2 L1045.0,672.5 L1045.5,672.7 L1046.0,673.0 L1046.5,673.3 L1047.0,673.5 L1047.5,673.8 L1048.0,674.0 L1048.5,674.3 L1049.0,674.5 L1049.5,674.6 L1050.0,674.8 L1050.5,674.9 L1051.0,675.0 L1051.5,675.2 L1052.0,675.3 L1052.5,675.4 L1053.0,675.6 L1053.5,675.7 L1054.0,675.4 L1054.5,675.0 L1055.0,674.7 L1055.5,674.4 L1056.0,674.1 L1056.5,673.7 L1057.0,673.4 L1057.5,673.1 L1058.0,672.7 L1058.5,672.4 L1059.0,672.1 L1059.5,671.8 L1060.0,671.4 L1060.5,671.1 L1061.0,670.4 L1061.5,669.7 L1062.0,668.9 L1062.5,668.2 L1063.0,667.5 L1063.5,666.8 L1064.0,666.1 L1064.5,665.3 L1065.0,664.6 L1065.5,663.9 L1066.0,663.2 L1066.5,663.1 L1067.0,663.1 L1067.5,663.1 L1068.0,663.1 L1068.5,663.1 L1069.0,663.1 L1069.5,663.1 L1070.0,663.1 L1070.5,663.1 L1071.0,663.1 L1071.5,663.1 L1072.0,663.1 L1072.5,663.1 L1073.0,663.1 L1073.5,663.1 L1074.0,663.1 L1074.5,663.1 L1075.0,663.1 L1075.5,663.1 L1076.0,663.1 L1076.5,663.1 L1077.0,663.1 L1077.5,663.1 L1078.0,663.1 L1078.5,663.1 L1079.0,663.1 L1079.5,663.1 L1080.0,663.1 L1080.5,663.1 L1081.0,663.1 L1081.5,663.1 L1082.0,663.1 L1082.5,663.1 L1083.0,663.1 L1083.5,663.1 L1084.0,663.3 L1084.5,663.6 L1085.0,663.9 L1085.5,664.2 L1086.0,664.4 L1086.5,664.7 L1087.0,665.0 L1087.5,665.3 L1088.0,665.5 L1088.5,665.8 L1089.0,666.1 L1089.5,666.6 L1090.0,666.3 L1090.5,666.0 L1091.0,665.8 L1091.5,665.5 L1092.0,665.2 L1092.5,664.9 L1093.0,664.6 L1093.5,664.3 L1094.0,664.0 L1094.5,663.7 L1095.0,663.4 L1095.5,663.1 L1096.0,662.8 L1096.5,662.6 L1097.0,662.3 L1097.5,662.0 L1098.0,661.6 L1098.5,661.0 L1099.0,660.4 L1099.5,659.8 L1100.0,659.2 L1100.5,658.6 L1101.0,658.0 L1101.5,657.5 L1102.0,656.9 L1102.5,656.3 L1103.0,655.7 L1103.5,655.1 L1104.0,654.5 L1104.5,653.9 L1105.0,653.3 L1105.5,652.8 L1106.0,652.2 L1106.5,651.6 L1107.0,650.8 L1107.5,650.1 L1108.0,649.3 L1108.5,648.6 L1109.0,647.9 L1109.5,647.1 L1110.0,646.4 L1110.5,645.7 L1111.0,644.9 L1111.5,644.2 L1112.0,643.4 L1112.5,642.7 L1113.0,642.0 L1113.5,641.2 L1114.0,640.5 L1114.5,640.1 L1115.0,640.1 L1115.5,640.1 L1116.0,640.1 L1116.5,640.1 L1117.0,640.1 L1117.5,640.1 L1118.0,640.1 L1118.5,640.1 L1119.0,640.1 L1119.5,640.1 L1120.0,640.1 L1120.5,640.1 L1121.0,640.1 L1121.5,640.1 L1122.0,640.1 L1122.5,640.1 L1123.0,640.1 L1123.5,640.1 L1124.0,640.1 L1124.5,640.1 L1125.0,640.1 L1125.5,640.1 L1126.0,640.1 L1126.5,640.1 L1127.0,640.1 L1127.5,640.1 L1128.0,640.1 L1128.5,640.1 L1129.0,640.1 L1129.5,640.1 L1130.0,640.1 L1130.5,640.1 L1131.0,640.1 L1131.5,640.1 L1132.0,641.0 L1132.5,642.0 L1133.0,643.0 L1133.5,643.9 L1134.0,644.9 L1134.5,645.8 L1135.0,646.8 L1135.5,647.7 L1136.0,648.7 L1136.5,649.6 L1137.0,650.6 L1137.5,651.5 L1138.0,652.5 L1138.5,653.4 L1139.0,654.4 L1139.5,655.3 L1140.0,656.3 L1140.5,657.2 L1141.0,658.2 L1141.5,659.2 L1142.0,660.1 L1142.5,660.9 L1143.0,661.8 L1143.5,662.6 L1144.0,663.4 L1144.5,664.2 L1145.0,665.0 L1145.5,665.8 L1146.0,666.6 L1146.5,667.4 L1147.0,668.2 L1147.5,669.1 L1148.0,669.9 L1148.5,671.0 L1149.0,672.1 L1149.5,673.1 L1150.0,674.2 L1150.5,675.3 L1151.0,676.3 L1151.5,677.4 L1152.0,678.5 L1152.5,679.5 L1153.0,680.5 L1153.5,681.1 L1154.0,681.6 L1154.5,682.1 L1155.0,682.7 L1155.5,683.2 L1156.0,683.8 L1156.5,684.3 L1157.0,684.9 L1157.5,685.4 L1158.0,686.0 L1158.5,686.5 L1159.0,687.1 L1159.5,687.6 L1160.0,688.2 L1160.5,688.7 L1161.0,689.3 L1161.5,689.8 L1162.0,689.9 L1162.5,689.9 L1163.0,690.0 L1163.5,690.0 L1164.0,690.1 L1164.5,690.2 L1165.0,690.2 L1165.5,690.3 L1166.0,690.3 L1166.5,690.4 L1167.0,690.5 L1167.5,690.7 L1168.0,691.2 L1168.5,691.7 L1169.0,692.2 L1169.5,692.7 L1170.0,693.2 L1170.5,693.7 L1171.0,694.2 L1171.5,694.7 L1172.0,695.2 L1172.5,695.7 L1173.0,696.2 L1173.5,696.7 L1174.0,697.2 L1174.5,697.7 L1175.0,697.7 L1175.5,697.7 L1176.0,697.7 L1176.5,697.7 L1177.0,697.7 L1177.5,697.8 L1178.0,697.8 L1178.5,697.8 L1179.0,697.8 L1179.5,697.8 L1180.0,697.8 L1180.5,698.0 L1181.0,698.4 L1181.5,698.7 L1182.0,699.1 L1182.5,699.4 L1183.0,699.8 L1183.5,700.2 L1184.0,700.5 L1184.5,700.9 L1185.0,701.2 L1185.5,701.6 L1186.0,702.0 L1186.5,702.1 L1187.0,702.1 L1187.5,702.1 L1188.0,702.2 L1188.5,702.2 L1189.0,702.2 L1189.5,702.2 L1190.0,702.2 L1190.5,702.2 L1191.0,702.2 L1191.5,702.3 L1192.0,702.3 L1192.5,702.3 L1193.0,702.5 L1193.5,702.7 L1194.0,702.9 L1194.5,703.2 L1195.0,703.4 L1195.5,703.6 L1196.0,704.0 L1196.5,704.3 L1197.0,704.6 L1197.5,705.0 L1198.0,705.4 L1198.5,705.7 L1199.0,706.0 L1199.5,706.4 L1200.0,706.8 L1200.5,707.1 L1201.0,707.4 L1201.5,707.8 L1202.0,708.5 L1202.5,709.2 L1203.0,710.0 L1203.5,710.7 L1204.0,711.4 L1204.5,712.1 L1205.0,712.6 L1205.5,713.0 L1206.0,713.4 L1206.5,713.8 L1207.0,714.2 L1207.5,714.6 L1208.0,714.9 L1208.5,715.3 L1209.0,715.7 L1209.5,716.1 L1210.0,716.4 L1210.5,716.6 L1211.0,716.8 L1211.5,717.0 L1212.0,717.1 L1212.5,717.3 L1213.0,717.5 L1213.5,717.8 L1214.0,718.2 L1214.5,718.6 L1215.0,719.0 L1215.5,719.4 L1216.0,719.8 L1216.5,720.2 L1217.0,720.5 L1217.5,720.9 L1218.0,721.3 L1218.5,721.7 L1219.0,722.1 L1219.5,722.5 L1220.0,722.9 L1220.5,723.3 L1221.0,723.5 L1221.5,723.8 L1222.0,724.0 L1222.5,724.3 L1223.0,724.6 L1223.5,724.8 L1224.0,725.1 L1224.5,725.3 L1225.0,725.6 L1225.5,725.8 L1226.0,726.1 L1226.5,726.4 L1227.0,726.6 L1227.5,726.9 L1228.0,727.1 L1228.5,727.4 L1229.0,727.6 L1229.5,727.9 L1230.0,728.1 L1230.5,728.4 L1231.0,728.6 L1231.5,728.9 L1232.0,729.1 L1232.5,729.4 L1233.0,729.6 L1233.5,729.9 L1234.0,730.1 L1234.5,730.4 L1235.0,730.6 L1235.5,730.9 L1236.0,731.1 L1236.5,731.4 L1237.0,731.6 L1237.5,731.9 L1238.0,731.9 L1238.5,731.9 L1239.0,731.9 L1239.5,731.9 L1240.0,731.9 L1240.5,731.9 L1241.0,731.9 L1241.5,731.9 L1242.0,731.9 L1242.5,731.9 L1243.0,731.9 L1243.5,731.9 L1244.0,731.9 L1244.5,731.9 L1245.0,731.9 L1245.5,731.9 L1246.0,731.9 L1246.5,731.9 L1247.0,731.9 L1247.5,731.9 L1248.0,731.9 L1248.5,731.9 L1249.0,731.9 L1249.5,731.9 L1250.0,731.9 L1250.5,731.9 L1251.0,731.9 L1251.5,731.9 L1252.0,731.9 L1252.5,731.9 L1253.0,731.9 L1253.5,731.9 L1254.0,731.9 L1254.5,731.9 L1255.0,731.9 L1255.5,731.9 L1256.0,731.9 L1256.5,731.9 L1257.0,731.9 L1257.5,731.9 L1258.0,731.9 L1258.5,731.9 L1259.0,731.9 L1259.5,731.9 L1260.0,731.9 L1260.5,731.9 L1261.0,731.9 L1261.5,731.9 L1262.0,731.9 L1262.5,731.9 L1263.0,731.9 L1263.5,731.9 L1264.0,731.9 L1264.5,731.9 L1265.0,731.9 L1265.5,731.9 L1266.0,731.9 L1266.5,731.9 L1267.0,731.9 L1267.5,731.9 L1268.0,731.9 L1268.5,731.9 L1269.0,731.9 L1269.5,731.9 L1270.0,731.9 L1270.5,731.9 L1271.0,731.9 L1271.5,731.9 L1272.0,731.9 L1272.5,731.9 L1273.0,731.9 L1273.5,731.9 L1274.0,731.9 L1274.5,731.9 L1275.0,731.9 L1275.5,731.9 L1276.0,731.9 L1276.5,731.9 L1277.0,731.9 L1277.5,731.9 L1278.0,731.9 L1278.5,731.9 L1279.0,731.9 L1279.5,731.9 L1280.0,731.9 L1280.5,731.9 L1281.0,731.9 L1281.5,731.9 L1282.0,731.9 L1282.5,731.9 L1283.0,731.9 L1283.5,731.9 L1284.0,731.9 L1284.5,731.9 L1285.0,731.9 L1285.5,731.9 L1286.0,731.9 L1286.5,731.9 L1287.0,731.9 L1287.5,731.9 L1288.0,731.9 L1288.5,731.9 L1289.0,731.9 L1289.5,731.9 L1290.0,731.9 L1290.5,731.9 L1291.0,731.9 L1291.5,731.9 L1292.0,731.9 L1292.5,731.9 L1293.0,731.9 L1293.5,731.9 L1294.0,731.9 L1294.5,731.9 L1295.0,731.9 L1295.5,731.9 L1296.0,731.9 L1296.5,731.9 L1297.0,731.9 L1297.5,731.9 L1298.0,731.9 L1298.5,731.9 L1299.0,731.9 L1299.5,731.9 L1300.0,731.9 L1300.5,731.9 L1301.0,731.9 L1301.5,731.9 L1302.0,731.9 L1302.5,731.9 L1303.0,731.9 L1303.5,731.9 L1304.0,731.9 L1304.5,731.9 L1305.0,731.9 L1305.5,731.9 L1306.0,731.9 L1306.5,731.9 L1307.0,731.9 L1307.5,731.9 L1308.0,731.9 L1308.5,731.9 L1309.0,731.9 L1309.5,731.9 L1310.0,731.9 L1310.5,731.9 L1311.0,731.9 L1311.5,732.0 L1312.0,732.2 L1312.5,732.3 L1313.0,732.4 L1313.5,732.5 L1314.0,732.7 L1314.5,732.8 L1315.0,732.8 L1315.5,732.8 L1316.0,732.8 L1316.5,732.9 L1317.0,732.9 L1317.5,732.9 L1318.0,732.9 L1318.5,732.9 L1319.0,732.9 L1319.5,733.0 L1320.0,733.0 L1320.5,733.0 L1321.0,733.0 L1321.5,733.0 L1322.0,733.0 L1322.5,733.1 L1323.0,733.1 L1323.5,733.1 L1324.0,733.1 L1324.5,733.1 L1325.0,733.1 L1325.5,733.2 L1326.0,733.2 L1326.5,733.2 L1327.0,733.2 L1327.5,733.2 L1328.0,733.2 L1328.5,733.3 L1329.0,733.3 L1329.5,733.3 L1330.0,733.3 L1330.0,775.2 Z" fill="#e30613"/>
<path d="M70.0,775.2 L70.0,531.5 L77.2,534.0 L88.0,516.7 L92.3,523.4 L103.0,526.3 L113.2,531.8 L121.8,533.0 L126.8,539.0 L137.3,536.5 L141.4,529.7 L148.0,531.7 L156.5,527.7 L163.8,525.3 L172.6,519.7 L178.3,518.0 L184.7,513.6 L192.8,509.6 L199.2,505.6 L202.8,502.4 L207.2,493.5 L212.1,487.1 L215.3,484.5 L219.3,483.0 L223.2,480.7 L227.3,488.7 L232.4,495.9 L241.8,516.0 L246.0,527.5 L260.1,554.0 L273.0,562.6 L283.8,570.8 L293.9,578.4 L297.5,574.8 L310.4,553.3 L318.3,549.7 L321.9,549.0 L337.7,517.6 L342.0,522.4 L350.6,523.1 L356.4,524.8 L362.1,530.3 L366.4,527.4 L381.5,500.1 L385.1,501.6 L390.9,513.0 L398.0,521.7 L404.5,537.5 L413.9,549.7 L419.6,555.9 L426.6,549.8 L429.5,553.8 L442.3,586.0 L449.5,606.1 L454.5,621.9 L460.2,622.6 L473.2,639.1 L481.8,644.9 L491.8,654.2 L506.2,647.5 L527.8,646.3 L532.1,642.7 L540.7,626.9 L549.3,637.7 L554.3,639.9 L561.5,654.9 L566.6,662.8 L569.4,661.4 L572.3,663.9 L582.4,650.6 L590.3,649.9 L598.9,636.6 L602.5,637.7 L606.0,633.3 L608.1,635.2 L613.8,630.3 L618.7,636.0 L621.6,639.6 L625.1,636.7 L629.5,642.0 L637.4,635.3 L644.5,632.4 L649.6,633.8 L653.2,631.2 L657.5,640.3 L665.4,656.8 L673.3,664.7 L681.2,665.4 L686.2,672.6 L690.5,673.3 L695.5,682.0 L702.7,682.0 L704.9,679.8 L709.9,674.1 L713.5,676.2 L717.1,671.2 L719.3,673.3 L726.4,665.4 L730.7,669.0 L735.8,677.6 L740.1,682.0 L745.8,682.7 L749.4,692.0 L753.7,686.3 L762.4,684.8 L766.7,680.5 L770.3,689.1 L774.6,698.5 L778.9,697.0 L785.2,692.7 L790.2,686.6 L793.4,688.4 L797.4,683.3 L803.7,689.8 L811.6,692.7 L818.8,694.8 L823.1,694.8 L828.1,692.0 L832.4,686.2 L836.0,688.4 L840.3,687.6 L843.2,689.4 L850.4,686.9 L860.5,678.3 L868.4,673.3 L876.3,661.1 L883.4,658.6 L893.5,646.0 L902.1,635.9 L911.5,627.2 L915.1,628.9 L921.5,617.8 L927.3,606.3 L933.0,613.0 L941.0,599.5 L943.1,595.3 L946.7,590.3 L950.3,579.5 L961.1,559.4 L969.0,578.0 L974.7,591.0 L982.6,603.2 L989.1,614.7 L994.8,628.3 L1005.6,647.0 L1014.2,648.2 L1018.5,656.3 L1024.3,657.8 L1029.6,664.0 L1034.0,665.4 L1038.7,669.8 L1048.7,675.0 L1053.8,676.4 L1063.8,680.7 L1077.5,671.7 L1083.2,663.5 L1089.0,666.7 L1093.3,674.6 L1106.2,667.4 L1114.8,662.4 L1123.4,652.3 L1131.4,640.5 L1142.1,660.9 L1147.9,670.3 L1152.9,681.0 L1161.5,690.4 L1167.3,691.1 L1174.5,698.3 L1180.2,698.4 L1186.2,702.7 L1192.6,702.9 L1195.5,704.2 L1201.5,708.4 L1204.7,713.0 L1209.9,717.0 L1213.3,718.2 L1220.2,723.7 L1228.3,727.9 L1237.5,732.5 L1311.0,732.5 L1314.5,733.4 L1330.0,733.9 L1330.0,775.2 Z" fill="#a51010" filter="url(#noise)"/>
<rect x="70" y="774.2" width="1260" height="1.2" fill="#7e0c0c"/>
<rect x="223.0" y="482.3" width="2" height="292.9" fill="#87504f"/>
<rect x="223.0" y="775.2" width="2" height="9.8" fill="#ababab"/>
<rect x="380.5" y="500.1" width="2" height="275.1" fill="#87504f"/>
<rect x="380.5" y="775.2" width="2" height="9.8" fill="#ababab"/>
<rect x="580.7" y="636.4" width="2" height="15.1" fill="#6a0408"/>
<rect x="580.7" y="651.5" width="2" height="123.7" fill="#87504f"/>
<rect x="580.7" y="775.2" width="2" height="9.8" fill="#ababab"/>
<rect x="703.0" y="670.7" width="2" height="10.0" fill="#6a0408"/>
<rect x="703.0" y="680.7" width="2" height="94.5" fill="#87504f"/>
<rect x="703.0" y="775.2" width="2" height="9.8" fill="#ababab"/>
<rect x="821.8" y="685.7" width="2" height="9.1" fill="#6a0408"/>
<rect x="821.8" y="694.8" width="2" height="80.4" fill="#87504f"/>
<rect x="821.8" y="775.2" width="2" height="9.8" fill="#ababab"/>
<rect x="882.8" y="636.8" width="2" height="21.3" fill="#6a0408"/>
<rect x="882.8" y="658.1" width="2" height="117.1" fill="#87504f"/>
<rect x="882.8" y="775.2" width="2" height="9.8" fill="#ababab"/>
<rect x="1193.7" y="703.8" width="2" height="71.4" fill="#87504f"/>
<rect x="1193.7" y="775.2" width="2" height="9.8" fill="#ababab"/>
<rect x="960.0" y="559.6" width="2" height="215.6" fill="#87504f"/>
<rect x="960.0" y="775.2" width="2" height="9.8" fill="#ababab"/>
<polygon points="0,785 1388,785 1400,808.6 12,808.6" fill="#9a9ea1"/>
<rect x="69" y="818.2" width="1261.6" height="2.6" fill="#b9b9b9"/>
<rect x="69" y="813" width="2.8" height="7" fill="#b9b9b9"/>
<text transform="translate(70.0,833.7) scale(0.75,1)" text-anchor="middle" class="rl">0</text>
<rect x="136.7" y="813" width="2.0" height="6" fill="#b9b9b9"/>
<text transform="translate(137.7,833.7) scale(0.75,1)" text-anchor="middle" class="rl">10</text>
<rect x="204.4" y="813" width="2.0" height="6" fill="#b9b9b9"/>
<text transform="translate(205.4,833.7) scale(0.75,1)" text-anchor="middle" class="rl">20</text>
<rect x="272.1" y="813" width="2.0" height="6" fill="#b9b9b9"/>
<text transform="translate(273.1,833.7) scale(0.75,1)" text-anchor="middle" class="rl">30</text>
<rect x="339.8" y="813" width="2.0" height="6" fill="#b9b9b9"/>
<text transform="translate(340.8,833.7) scale(0.75,1)" text-anchor="middle" class="rl">40</text>
<rect x="407.4" y="813" width="2.0" height="6" fill="#b9b9b9"/>
<text transform="translate(408.4,833.7) scale(0.75,1)" text-anchor="middle" class="rl">50</text>
<rect x="475.1" y="813" width="2.0" height="6" fill="#b9b9b9"/>
<text transform="translate(476.1,833.7) scale(0.75,1)" text-anchor="middle" class="rl">60</text>
<rect x="542.8" y="813" width="2.0" height="6" fill="#b9b9b9"/>
<text transform="translate(543.8,833.7) scale(0.75,1)" text-anchor="middle" class="rl">70</text>
<rect x="610.5" y="813" width="2.0" height="6" fill="#b9b9b9"/>
<text transform="translate(611.5,833.7) scale(0.75,1)" text-anchor="middle" class="rl">80</text>
<rect x="678.2" y="813" width="2.0" height="6" fill="#b9b9b9"/>
<text transform="translate(679.2,833.7) scale(0.75,1)" text-anchor="middle" class="rl">90</text>
<rect x="745.9" y="813" width="2.0" height="6" fill="#b9b9b9"/>
<text transform="translate(746.9,833.7) scale(0.75,1)" text-anchor="middle" class="rl">100</text>
<rect x="813.6" y="813" width="2.0" height="6" fill="#b9b9b9"/>
<text transform="translate(814.6,833.7) scale(0.75,1)" text-anchor="middle" class="rl">110</text>
<rect x="881.3" y="813" width="2.0" height="6" fill="#b9b9b9"/>
<text transform="translate(882.3,833.7) scale(0.75,1)" text-anchor="middle" class="rl">120</text>
<rect x="949.0" y="813" width="2.0" height="6" fill="#b9b9b9"/>
<text transform="translate(950.0,833.7) scale(0.75,1)" text-anchor="middle" class="rl">130</text>
<rect x="1016.6" y="813" width="2.0" height="6" fill="#b9b9b9"/>
<text transform="translate(1017.6,833.7) scale(0.75,1)" text-anchor="middle" class="rl">140</text>
<rect x="1084.3" y="813" width="2.0" height="6" fill="#b9b9b9"/>
<text transform="translate(1085.3,833.7) scale(0.75,1)" text-anchor="middle" class="rl">150</text>
<rect x="1152.0" y="813" width="2.0" height="6" fill="#b9b9b9"/>
<text transform="translate(1153.0,833.7) scale(0.75,1)" text-anchor="middle" class="rl">160</text>
<rect x="1219.7" y="813" width="2.0" height="6" fill="#b9b9b9"/>
<text transform="translate(1220.7,833.7) scale(0.75,1)" text-anchor="middle" class="rl">170</text>
<rect x="1287.4" y="813" width="2.0" height="6" fill="#b9b9b9"/>
<text transform="translate(1288.4,833.7) scale(0.75,1)" text-anchor="middle" class="rl">180</text>
<rect x="1328.4" y="813" width="2.2" height="7" fill="#b9b9b9"/>
<text transform="translate(58.4,802.2) scale(0.80,1)" text-anchor="middle" class="kb">Km</text>
<text transform="translate(224.0,802.8) scale(0.755,1)" text-anchor="middle" class="km">23</text>
<text transform="translate(381.5,802.8) scale(0.755,1)" text-anchor="middle" class="km">46</text>
<text transform="translate(581.7,802.8) scale(0.755,1)" text-anchor="middle" class="km">76</text>
<text transform="translate(704.0,802.8) scale(0.755,1)" text-anchor="middle" class="km">94</text>
<text transform="translate(822.8,802.8) scale(0.755,1)" text-anchor="middle" class="km">111</text>
<text transform="translate(883.8,802.8) scale(0.755,1)" text-anchor="middle" class="km">120</text>
<text transform="translate(961.0,802.8) scale(0.755,1)" text-anchor="middle" class="km">132</text>
<text transform="translate(1194.7,802.8) scale(0.755,1)" text-anchor="middle" class="km">166</text>
<text transform="translate(1351.8,802.4) scale(0.92,1)" text-anchor="end" class="kb2">186,2</text>
<text transform="translate(228.9,398.2) rotate(-90)" class="lb" textLength="182.2" lengthAdjust="spacingAndGlyphs">Ares del Maestre / 1128m</text>
<text transform="translate(386.4,398.2) rotate(-90)" class="lb" textLength="101.4" lengthAdjust="spacingAndGlyphs">Culla / 1050m</text>
<text transform="translate(586.6,398.2) rotate(-90)" class="lb" textLength="132.1" lengthAdjust="spacingAndGlyphs">Les Useres / 382m</text>
<text transform="translate(708.9,398.2) rotate(-90)" class="lb" textLength="100.3" lengthAdjust="spacingAndGlyphs">Alcora / 250m</text>
<text transform="translate(827.7,398.2) rotate(-90)" class="lb" textLength="93.2" lengthAdjust="spacingAndGlyphs">Onda / 185m</text>
<text transform="translate(888.7,398.2) rotate(-90)" class="lb" textLength="135.4" lengthAdjust="spacingAndGlyphs">Banitandus / 345m</text>
<text transform="translate(1199.6,398.2) rotate(-90)" class="lb" textLength="147.6" lengthAdjust="spacingAndGlyphs">la Vall d'Uxio / 140m</text>
<text transform="translate(968.9,354.0) rotate(-90)" class="lb" textLength="187.3" lengthAdjust="spacingAndGlyphs">Collado de la Ibola / 786m</text>
<text transform="translate(985.6,353.4) rotate(-90)" class="lbb" textLength="115" lengthAdjust="spacingAndGlyphs">(11.4 Km - 3.9%)</text>
<text transform="translate(22.0,774.2) rotate(-90)" class="ti" textLength="84.5" lengthAdjust="spacingAndGlyphs">MORELLA</text>
<polygon points="22,685.8 22,682.9 6,677 6,679.9" fill="#000"/>
<text transform="translate(22.0,671.6) rotate(-90)" class="ti" textLength="37.0" lengthAdjust="spacingAndGlyphs">914</text>
<text transform="translate(22.0,628.8) rotate(-90)" class="ti" textLength="14.6" lengthAdjust="spacingAndGlyphs">m</text>
<text transform="translate(1392.0,774.4) rotate(-90)" class="ti" textLength="94.5" lengthAdjust="spacingAndGlyphs">BURRIANA</text>
<polygon points="1392,675.6 1392,672.7 1376,667 1376,669.9" fill="#000"/>
<text transform="translate(1392.0,661.9) rotate(-90)" class="ti" textLength="11.7" lengthAdjust="spacingAndGlyphs">8</text>
<text transform="translate(1392.0,643.6) rotate(-90)" class="ti" textLength="14.6" lengthAdjust="spacingAndGlyphs">m</text>
<circle cx="69.7" cy="417.2" r="21.4" fill="#ee2e24" stroke="#12181a" stroke-width="2.2"/>
<polygon points="61.9,405.7 82.2,417.4 61.9,429.1" fill="#fff"/>
<circle cx="1329.7" cy="417.2" r="21.2" fill="#fff"/>
<g clip-path="url(#cs)">
<rect x="1302.00" y="389.40" width="6.2" height="6.2" fill="#ee2a1e"/>
<rect x="1302.00" y="401.80" width="6.2" height="6.2" fill="#ee2a1e"/>
<rect x="1302.00" y="414.20" width="6.2" height="6.2" fill="#ee2a1e"/>
<rect x="1302.00" y="426.60" width="6.2" height="6.2" fill="#ee2a1e"/>
<rect x="1302.00" y="439.00" width="6.2" height="6.2" fill="#ee2a1e"/>
<rect x="1308.20" y="395.60" width="6.2" height="6.2" fill="#ee2a1e"/>
<rect x="1308.20" y="408.00" width="6.2" height="6.2" fill="#ee2a1e"/>
<rect x="1308.20" y="420.40" width="6.2" height="6.2" fill="#ee2a1e"/>
<rect x="1308.20" y="432.80" width="6.2" height="6.2" fill="#ee2a1e"/>
<rect x="1314.40" y="389.40" width="6.2" height="6.2" fill="#ee2a1e"/>
<rect x="1314.40" y="401.80" width="6.2" height="6.2" fill="#ee2a1e"/>
<rect x="1314.40" y="414.20" width="6.2" height="6.2" fill="#ee2a1e"/>
<rect x="1314.40" y="426.60" width="6.2" height="6.2" fill="#ee2a1e"/>
<rect x="1314.40" y="439.00" width="6.2" height="6.2" fill="#ee2a1e"/>
<rect x="1320.60" y="395.60" width="6.2" height="6.2" fill="#ee2a1e"/>
<rect x="1320.60" y="408.00" width="6.2" height="6.2" fill="#ee2a1e"/>
<rect x="1320.60" y="420.40" width="6.2" height="6.2" fill="#ee2a1e"/>
<rect x="1320.60" y="432.80" width="6.2" height="6.2" fill="#ee2a1e"/>
<rect x="1326.80" y="389.40" width="6.2" height="6.2" fill="#ee2a1e"/>
<rect x="1326.80" y="401.80" width="6.2" height="6.2" fill="#ee2a1e"/>
<rect x="1326.80" y="414.20" width="6.2" height="6.2" fill="#ee2a1e"/>
<rect x="1326.80" y="426.60" width="6.2" height="6.2" fill="#ee2a1e"/>
<rect x="1326.80" y="439.00" width="6.2" height="6.2" fill="#ee2a1e"/>
<rect x="1333.00" y="395.60" width="6.2" height="6.2" fill="#ee2a1e"/>
<rect x="1333.00" y="408.00" width="6.2" height="6.2" fill="#ee2a1e"/>
<rect x="1333.00" y="420.40" width="6.2" height="6.2" fill="#ee2a1e"/>
<rect x="1333.00" y="432.80" width="6.2" height="6.2" fill="#ee2a1e"/>
<rect x="1339.20" y="389.40" width="6.2" height="6.2" fill="#ee2a1e"/>
<rect x="1339.20" y="401.80" width="6.2" height="6.2" fill="#ee2a1e"/>
<rect x="1339.20" y="414.20" width="6.2" height="6.2" fill="#ee2a1e"/>
<rect x="1339.20" y="426.60" width="6.2" height="6.2" fill="#ee2a1e"/>
<rect x="1339.20" y="439.00" width="6.2" height="6.2" fill="#ee2a1e"/>
<rect x="1345.40" y="395.60" width="6.2" height="6.2" fill="#ee2a1e"/>
<rect x="1345.40" y="408.00" width="6.2" height="6.2" fill="#ee2a1e"/>
<rect x="1345.40" y="420.40" width="6.2" height="6.2" fill="#ee2a1e"/>
<rect x="1345.40" y="432.80" width="6.2" height="6.2" fill="#ee2a1e"/>
<rect x="1351.60" y="389.40" width="6.2" height="6.2" fill="#ee2a1e"/>
<rect x="1351.60" y="401.80" width="6.2" height="6.2" fill="#ee2a1e"/>
<rect x="1351.60" y="414.20" width="6.2" height="6.2" fill="#ee2a1e"/>
<rect x="1351.60" y="426.60" width="6.2" height="6.2" fill="#ee2a1e"/>
<rect x="1351.60" y="439.00" width="6.2" height="6.2" fill="#ee2a1e"/>
</g>
<circle cx="1329.7" cy="417.2" r="21.4" fill="none" stroke="#12181a" stroke-width="2.2"/>
<circle cx="963.6" cy="386.2" r="21.4" fill="#1a4ea8" stroke="#1a1412" stroke-width="2.2"/>
<g clip-path="url(#cb)"><path d="M951.3,402 L955.2,395 L957.9,397.8 L967.6,382.9 L974.1,392.9 L977.6,388.4 L982.5,396.2 M974.1,392.9 L970.3,399.8" fill="none" stroke="#fff" stroke-width="1.9" stroke-linejoin="round" stroke-linecap="round"/></g>
<text x="947.8" y="387.4" class="k2">2</text>
<text x="959.8" y="379.4" class="ka">a</text>
<text x="1172.8" y="857.6" class="pw" textLength="71" lengthAdjust="spacingAndGlyphs">Powered by</text>
<polygon points="1254,844.4 1272.3,844.4 1263,864.2" fill="#e5132f"/>
<text x="1262.9" y="856.3" class="one" text-anchor="middle">1</text>
<text x="1274.5" y="859" class="lf" textLength="75" lengthAdjust="spacingAndGlyphs">La Flamme</text>
<text x="1350" y="859" class="lfb" textLength="44.5" lengthAdjust="spacingAndGlyphs">Rouge</text>
</svg>
</body></html>
